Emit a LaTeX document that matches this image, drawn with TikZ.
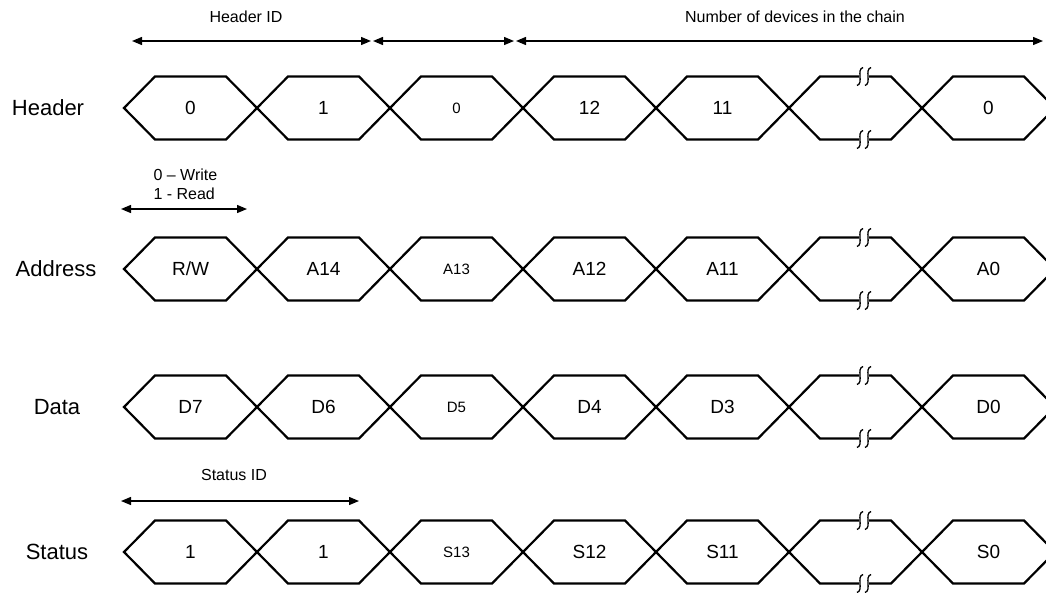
\documentclass[tikz,border=0pt]{standalone}
\usepackage{fontspec}
\setmainfont{Liberation Sans}
\usetikzlibrary{arrows.meta,positioning}

\newcommand{\rwtext}{R/W}

\tikzset{
  bus/.style={line width=2.2pt,line join=miter},
  span/.style={{Triangle[length=10pt,width=8pt]}-{Triangle[length=10pt,width=8pt]},line width=1.3pt},
  brkmark/.style={line width=1.3pt},
  rowlbl/.style={font=\fontsize{22}{26}\selectfont},
  bit/.style={font=\fontsize{19}{22}\selectfont},
  smallbit/.style={font=\fontsize{15}{18}\selectfont},
  note/.style={font=\fontsize{16}{19}\selectfont},
}

\begin{document}
\begin{tikzpicture}[x=1pt,y=-1pt]
\useasboundingbox (0,0) rectangle (1046,592);
\clip (0,0) rectangle (1046,592);
% Row labels
\node[rowlbl] (hdr) at (48,108) {Header};
\node[rowlbl] (adr) at (56,269) {Address};
\node[rowlbl] (dat) at (57,407) {Data};
\node[rowlbl] (sts) at (57,552) {Status};
% Bus cells
\foreach \y in {108,269,407,552}{
  \foreach \k in {0,1,2,3,4,6}
    \draw[bus] ({124+133*\k},\y) -- ++(31,-31.5) -- ++(71,0) -- ++(31,31.5) -- ++(-31,31.5) -- ++(-71,0) -- cycle;
  % broken cell
  \draw[bus] (859,{\y-31.5}) -- (820,{\y-31.5}) -- (789,\y) -- (820,{\y+31.5}) -- (859,{\y+31.5});
  \draw[bus] (869,{\y-31.5}) -- (891,{\y-31.5}) -- (922,\y) -- (891,{\y+31.5}) -- (869,{\y+31.5});
  \foreach \bx in {860,868}
    \foreach \by in {\y-31.5,\y+31.5}
      \draw[brkmark] ({\bx+3},{\by-9}) .. controls ({\bx-4},{\by-7}) and ({\bx+4},{\by+7}) .. ({\bx-3},{\by+9});
}
% Cell texts
\foreach \y/\r/\ta/\tb/\tc/\td/\te/\tg in {108/h/0/1/0/12/11/0, 269/a/\rwtext/A14/A13/A12/A11/A0, 407/d/D7/D6/D5/D4/D3/D0, 552/s/1/1/S13/S12/S11/S0}{
  \node[bit] (\r0) at (190.5,\y) {\ta};
  \node[bit] (\r1) at (323.5,\y) {\tb};
  \node[smallbit] (\r2) at (456.5,\y) {\tc};
  \node[bit] (\r3) at (589.5,\y) {\td};
  \node[bit] (\r4) at (722.5,\y) {\te};
  \node[bit] (\r6) at (988.5,\y) {\tg};
}
% Field spans
\node[note] (hid) at (246,17) {Header ID};
\node[note] (ndev) at (795,17) {Number of devices in the chain};
\coordinate (hidL) at (132,41);
\coordinate (hidR) at (371,41);
\coordinate (zL) at (373,41);
\coordinate (zR) at (514,41);
\coordinate (ndevL) at (516,41);
\coordinate (ndevR) at (1043,41);
\draw[span] (hidL) -- (hidR);
\draw[span] (zL) -- (zR);
\draw[span] (ndevL) -- (ndevR);

\node[note,align=left,anchor=west] (rw) at (150,184) {0 -- Write\\1 - Read};
\coordinate (rwL) at (121,209);
\coordinate (rwR) at (247,209);
\draw[span] (rwL) -- (rwR);

\node[note] (sid) at (234,475) {Status ID};
\coordinate (sidL) at (121,501);
\coordinate (sidR) at (359,501);
\draw[span] (sidL) -- (sidR);
\end{tikzpicture}
\end{document}
